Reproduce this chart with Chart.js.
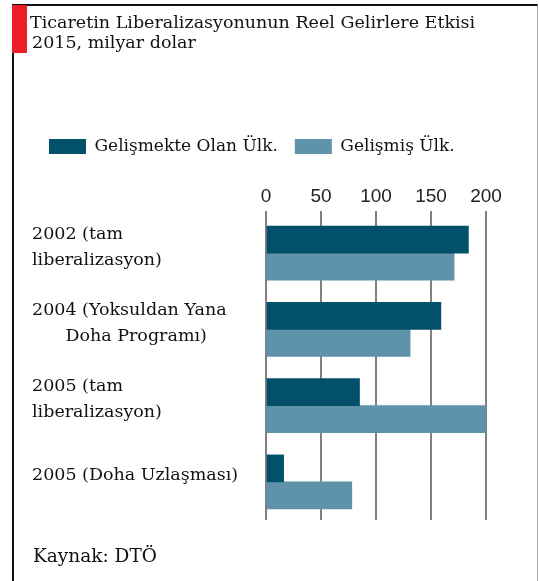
<!DOCTYPE html>
<html>
<head>
<meta charset="utf-8">
<script src="https://cdn.jsdelivr.net/npm/chart.js@4/dist/chart.umd.min.js"></script>
<style>
  html, body { margin: 0; padding: 0; background: #fff; }
  body { width: 539px; height: 581px; position: relative; overflow: hidden; font-family: "DejaVu Serif", serif; color: #111; }
  #frame { position: absolute; left: 12px; top: 4px; width: 523px; height: 590px;
           border-left: 2px solid #111; border-top: 2px solid #111; border-right: 1px solid #aaa; }
  #redbar { position: absolute; left: 12px; top: 5px; width: 15px; height: 48px; background: #ee1c25; }
  #chart { position: absolute; left: 0; top: 0; }
  .txt { position: absolute; font-size: 17.5px; white-space: nowrap; }
</style>
</head>
<body>
<div id="frame"></div>
<canvas id="chart" width="539" height="581"></canvas>
<div id="redbar"></div>
<div class="txt" style="left:30px; top:12px;">Ticaretin Liberalizasyonunun Reel Gelirlere Etkisi</div>
<div class="txt" style="left:32px; top:32px;">2015, milyar dolar</div>
<div class="txt" style="left:33px; top:545px; font-size:18.5px;">Kaynak: DTÖ</div>
<script>
// 2015 real income gains from trade liberalisation, billion USD

const categories = [
  ['2002 (tam', 'liberalizasyon)'],
  ['2004 (Yoksuldan Yana', '      Doha Programı)'],
  ['2005 (tam', 'liberalizasyon)'],
  ['2005 (Doha Uzlaşması)'],
];
const seriesNames = ['Gelişmekte Olan Ülk.', 'Gelişmiş Ülk.'];
const developing = [184, 159, 85, 16];
const developed  = [171, 131, 200, 78];
const xTicks = [0, 50, 100, 150, 200];

const serif = '"DejaVu Serif", serif';

new Chart(document.getElementById('chart'), {
  type: 'bar',
  data: {
    labels: categories,
    datasets: [
      { label: seriesNames[0], data: developing, backgroundColor: '#03506b', barThickness: 27 },
      { label: seriesNames[1], data: developed,  backgroundColor: '#5f93aa', barThickness: 27 },
    ],
  },
  options: {
    indexAxis: 'y',
    responsive: false,
    animation: false,
    layout: { padding: { left: 32, right: 53, top: 121, bottom: 61 } },
    plugins: {
      legend: {
        position: 'top',
        align: 'start',
        labels: {
          boxWidth: 37, boxHeight: 15, padding: 17,
          color: '#111',
          font: { family: serif, size: 17 },
        },
      },
      tooltip: { enabled: false },
    },
    scales: {
      x: {
        position: 'top',
        min: 0, max: 200,
        afterBuildTicks: s => { s.ticks = xTicks.map(v => ({ value: v })); },
        afterFit: s => { s.height = 50; },
        grid: { color: '#808080', lineWidth: 2, tickLength: 4 },
        border: { display: false },
        ticks: { color: '#222', padding: 3, font: { family: '"Liberation Sans", sans-serif', size: 19 } },
      },
      y: {
        afterFit: s => { s.width = 266 - 32; },
        grid: { display: false },
        border: { display: false },
        ticks: {
          crossAlign: 'far',
          labelOffset: -6,
          color: '#111',
          font: { family: serif, size: 17.5, lineHeight: 1.5 },
        },
      },
    },
  },
});
</script>
</body>
</html>
